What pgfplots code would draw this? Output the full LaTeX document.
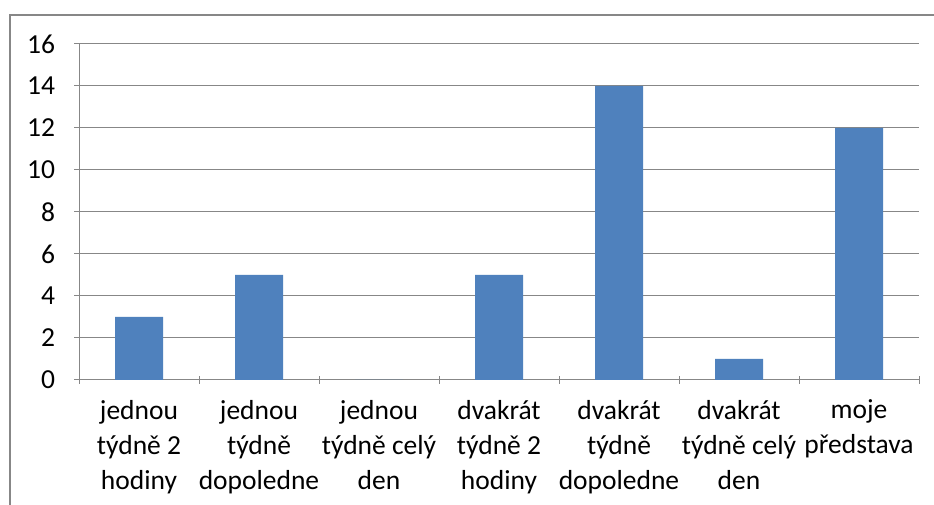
\documentclass[border=0pt]{standalone}
\usepackage{pgfplots}
\pgfplotsset{compat=1.18}
\usepackage{fontspec}
\setmainfont{Carlito}
\definecolor{barblue}{HTML}{4F81BD}
\definecolor{axgray}{HTML}{878787}
\begin{document}
\begin{tikzpicture}[x=1pt,y=1pt]
\useasboundingbox (0,0) rectangle (934,505);
\fill[white] (0,0) rectangle (934,505);
\draw[axgray, line width=1.6pt] (10,-5) -- (10,490) -- (940,490);
\begin{axis}[
  at={(79pt,125pt)}, anchor=south west,
  scale only axis, width=840pt, height=336pt,
  xmin=0.5, xmax=7.5, ymin=0, ymax=16,
  ytick={0,2,...,16},
  xtick={1,2,3,4,5,6,7},
  minor xtick={0.5,1.5,...,7.5},
  major x tick style={draw=none},
  minor tick length=8pt,
  major tick length=9pt,
  tick align=outside,
  axis x line=bottom, axis y line=left,
  axis line style={-, axgray, line width=1pt},
  every tick/.style={axgray, line width=1pt},
  ymajorgrids, grid style={axgray, line width=1pt},
  /pgf/number format/assume math mode=true,
  tick label style={font=\fontsize{27.5}{35}\selectfont},
  yticklabel style={anchor=east, xshift=-16pt},
  xticklabel style={align=center, anchor=north, yshift=-12pt},
  xticklabels={{jednou\\týdně 2\\hodiny},{jednou\\týdně\\dopoledne},{jednou\\týdně celý\\den},{dvakrát\\týdně 2\\hodiny},{dvakrát\\týdně\\dopoledne},{dvakrát\\týdně celý\\den},{moje\\představa}},
  clip=false,
]
\addplot[ybar, bar width=48pt, fill=barblue, draw=none] coordinates {(1,3) (2,5) (3,0) (4,5) (5,14) (6,1) (7,12)};
\end{axis}
\end{tikzpicture}
\end{document}
